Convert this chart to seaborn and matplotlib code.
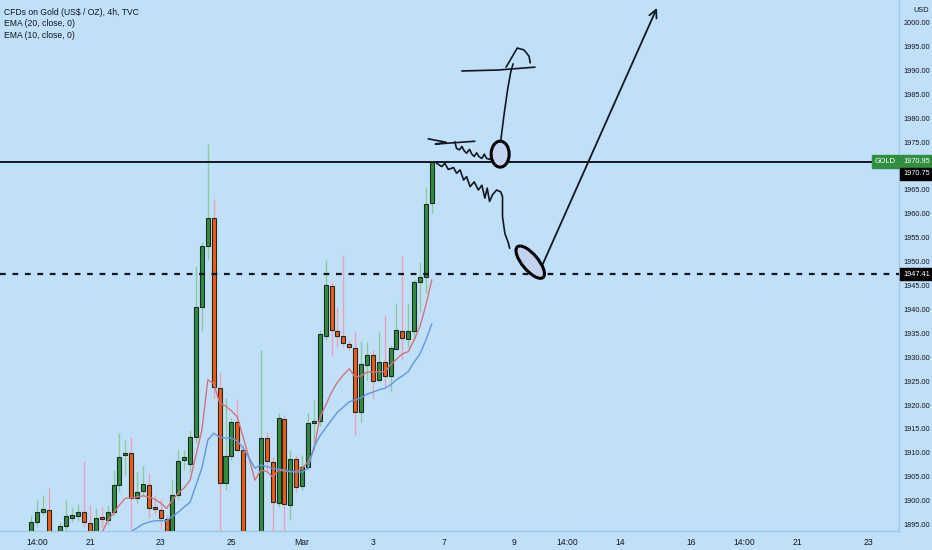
import numpy as np
import pandas as pd
import seaborn as sns
import matplotlib.pyplot as plt
from matplotlib.patches import Ellipse
from matplotlib.transforms import ScaledTranslation, blended_transform_factory

nan = np.nan

# 4h candles of CFDs on Gold (US$ / OZ)
opens = [1892.5, 1895.6, 1897.7, 1898.1, 1893.0, 1891.5, 1894.7, 1896.3, 1896.7, 1897.7,
         1895.4, 1893.5, 1896.2, 1895.9, 1897.6, 1903.3, 1909.6, 1910.0, 1900.6, 1902.0,
         1903.3, 1898.3, 1898.1, 1896.1, 1892.0, 1901.1, 1908.6, 1907.7, 1913.4, 1940.5,
         1953.3, 1959.2, 1923.5, 1903.6, 1909.4, 1916.4, 1910.6, 1892.0, 1889.5, 1892.0,
         1913.2, 1908.0, 1899.6, 1917.0, 1899.1, 1908.7, 1903.1, 1907.0, 1916.2, 1916.7,
         1934.5, 1944.9, 1935.5, 1934.4, 1932.7, 1931.9, 1918.6, 1928.4, 1930.5, 1925.3,
         1929.1, 1926.1, 1931.7, 1935.4, 1933.8, 1935.5, 1945.7, 1946.9, 1962.2]
highs = [1897.0, 1900.1, 1901.2, 1902.6, 1893.5, 1895.5, 1900.1, 1898.6, 1899.4, 1908.3,
         1899.1, 1898.5, 1898.7, 1899.0, 1906.5, 1914.2, 1912.7, 1913.4, 1906.0, 1907.3,
         1905.8, 1901.2, 1900.4, 1897.0, 1904.5, 1910.6, 1910.6, 1914.8, 1949.0, 1954.2,
         1974.6, 1963.1, 1926.9, 1921.4, 1917.2, 1921.3, 1911.6, 1893.0, 1893.5, 1931.5,
         1914.3, 1909.2, 1918.3, 1917.9, 1910.6, 1909.6, 1909.6, 1918.3, 1921.0, 1935.7,
         1950.4, 1945.7, 1940.6, 1951.4, 1933.6, 1935.4, 1933.5, 1933.1, 1931.5, 1935.2,
         1938.9, 1932.6, 1941.4, 1951.2, 1941.3, 1946.2, 1950.0, 1965.7, 1971.0]
lows = [1891.5, 1894.5, 1897.0, 1892.0, 1889.0, 1890.0, 1893.5, 1895.5, 1895.8, 1894.5,
        1892.0, 1892.5, 1894.5, 1895.0, 1896.8, 1901.8, 1905.4, 1894.0, 1899.5, 1901.0,
        1896.3, 1897.2, 1894.1, 1890.0, 1890.0, 1900.2, 1906.4, 1906.0, 1912.0, 1935.4,
        1950.4, 1921.5, 1893.5, 1902.2, 1908.5, 1910.3, 1890.0, 1887.0, 1888.0, 1890.5,
        1906.4, 1893.5, 1898.7, 1893.5, 1896.0, 1901.8, 1902.2, 1906.4, 1911.0, 1915.6,
        1933.6, 1930.3, 1932.2, 1932.2, 1931.5, 1913.7, 1916.5, 1925.3, 1921.3, 1924.9,
        1923.9, 1922.8, 1931.5, 1929.4, 1932.2, 1933.6, 1939.5, 1943.4, 1960.1]
closes = [1895.6, 1897.7, 1898.3, 1893.0, 1891.0, 1894.7, 1896.7, 1896.9, 1897.7, 1895.6,
          1893.5, 1896.4, 1895.8, 1897.6, 1903.3, 1909.1, 1910.0, 1900.6, 1901.9, 1903.5,
          1898.5, 1898.1, 1896.3, 1892.0, 1901.1, 1908.3, 1909.1, 1913.4, 1940.5, 1953.3,
          1959.2, 1923.7, 1903.8, 1909.4, 1916.4, 1910.6, 1892.0, 1889.5, 1892.0, 1913.1,
          1908.2, 1899.7, 1917.2, 1899.3, 1908.7, 1902.8, 1907.1, 1916.2, 1916.7, 1934.9,
          1945.1, 1935.7, 1934.5, 1932.9, 1932.1, 1918.5, 1928.6, 1930.5, 1925.0, 1929.1,
          1926.1, 1931.9, 1935.7, 1934.0, 1935.5, 1945.7, 1946.9, 1962.1, 1970.95]

# indicator lines as drawn (only the visible part)
ema10 = [nan] * 12 + [
    1893.2, 1895.8, 1897.4, 1899.1, 1900.5, 1900.6, 1900.8, 1901.0, 1900.8, 1900.3,
    1899.5, 1898.4, 1900.1, 1901.6, 1902.7, 1904.3, 1909.6, 1914.8, 1925.3, 1924.5,
    1920.5, 1919.8, 1918.8, 1917.5, 1913.3, 1908.9, 1904.3, 1906.4, 1906.1, 1905.0,
    1906.4, 1906.2, 1906.1, 1906.1, 1906.8, 1908.1, 1910.6, 1917.3, 1920.0, 1922.7,
    1924.8, 1926.3, 1927.6, 1925.9, 1926.1, 1926.9, 1926.9, 1927.0, 1927.0, 1928.4,
    1929.6, 1930.7, 1931.2, 1933.6, 1936.5, 1940.9, 1946.2]
ema20 = [nan] * 17 + [
    1893.6, 1894.3, 1895.1, 1895.5, 1895.8, 1895.8, 1895.8, 1896.7, 1897.6, 1898.7,
    1899.7, 1903.3, 1906.8, 1912.7, 1914.1, 1913.3, 1913.1, 1913.1, 1912.5, 1911.0,
    1908.9, 1906.8, 1907.5, 1907.1, 1906.8, 1906.6, 1906.4, 1906.1, 1906.0, 1906.0,
    1906.8, 1911.2, 1913.5, 1915.2, 1916.9, 1918.5, 1919.6, 1920.7, 1921.1, 1921.5,
    1922.3, 1922.7, 1923.2, 1923.5, 1924.2, 1925.3, 1926.1, 1927.0, 1929.0, 1930.7,
    1933.6, 1937.0]

tick_bars = [1, 10, 22, 34, 46, 58, 70, 82, 91, 100, 112, 121, 130, 142]
tick_labels = ['14:00', '21', '23', '25', 'Mar', '3', '7', '9', '14:00', '14', '16', '14:00', '21', '23']
price_ticks = list(range(1895, 2001, 5))

last_price = 1970.95
second_price = 1970.75
support_price = 1947.41

# hand drawn sketch (bar index, price)
sketch_top = [(67.4, 1975.7), (70.4, 1975.0), (68.6, 1974.6), (75.3, 1975.2)]
sketch_wave1 = [(71.9, 1975.1), (72.2, 1973.7), (72.7, 1973.4), (73.1, 1974.1), (73.5, 1973.2),
                (73.9, 1972.7), (74.4, 1973.5), (74.8, 1972.5), (75.2, 1972.0), (75.6, 1972.8),
                (76.0, 1972.0), (76.5, 1971.6), (76.9, 1972.5), (77.3, 1971.6), (77.9, 1971.4),
                (78.4, 1971.6)]
sketch_wave2 = [(68.8, 1970.6), (69.7, 1969.9), (70.2, 1970.6), (70.8, 1969.3), (71.7, 1969.7),
                (72.2, 1968.5), (72.8, 1969.2), (73.4, 1967.1), (73.9, 1967.8), (74.5, 1965.7),
                (75.2, 1966.7), (75.9, 1965.0), (76.5, 1966.0), (77.0, 1963.3), (77.4, 1965.4),
                (77.8, 1962.6), (78.3, 1964.0), (79.0, 1965.0), (79.7, 1964.6), (80.0, 1963.6),
                (80.0, 1959.4), (80.4, 1955.9), (81.0, 1953.9), (81.2, 1952.8)]
sketch_up = [(79.7, 1975.3), (80.25, 1980.7), (80.9, 1986.3), (81.4, 1989.7), (81.8, 1991.4)]
sketch_flat = [(73.1, 1989.9), (79.2, 1990.1), (85.5, 1990.7)]
sketch_hook = [(80.6, 1990.7), (81.6, 1992.8), (82.5, 1994.7), (83.65, 1994.3), (84.5, 1993.0), (84.7, 1991.6)]
arrow_from = (86.0, 1947.2)
arrow_to = (106.2, 2003.1)
circle_top = (79.6, 1972.5)
circle_low = (84.7, 1949.9)

bg = '#c0e0fa'
ink = '#131722'
sns.set_theme(style='white', rc={'axes.facecolor': bg, 'figure.facecolor': bg})
plt.rcParams['font.family'] = ['Liberation Sans', 'DejaVu Sans']

df = pd.DataFrame({'open': opens, 'high': highs, 'low': lows, 'close': closes,
                   'ema10': ema10, 'ema20': ema20})
df['bar'] = np.arange(len(df))

fig = plt.figure(figsize=(9.32, 5.5), dpi=100)
ax = fig.add_axes([0, 0.0351, 0.9646, 0.9649])

# candles
up = df['close'] >= df['open']
body = df['close'] - df['open']
body = body.where(body.abs() > 0.45, 0.45)
for mask, face, wick in [(up, '#2f8f3e', '#8ccb98'), (~up, '#f55a10', '#eca2b4')]:
    d = df[mask]
    ax.vlines(d['bar'], d['low'], d['high'], color=wick, lw=1.0, zorder=2)
    ax.bar(d['bar'], body[mask], bottom=d['open'], width=0.68, color=face,
           edgecolor='#1f2a22', linewidth=0.8, zorder=3)

# EMA lines
sns.lineplot(data=df, x='bar', y='ema10', ax=ax, color='#d4737c', lw=1.0, zorder=4)
sns.lineplot(data=df, x='bar', y='ema20', ax=ax, color='#6396e0', lw=1.0, zorder=4)

# horizontal levels
ax.axhline(last_price, color=ink, lw=1.4, zorder=5)
ax.axhline(support_price, color=ink, lw=1.6, ls=(0, (2.6, 3.0)), zorder=5)

# sketch
for path in [sketch_top, sketch_wave1, sketch_wave2, sketch_up, sketch_flat, sketch_hook]:
    xs, ys = zip(*path)
    ax.plot(xs, ys, color=ink, lw=1.2, zorder=6, solid_capstyle='round')
ax.annotate('', xy=arrow_to, xytext=arrow_from,
            arrowprops=dict(arrowstyle='->', color=ink, lw=1.3, mutation_scale=14,
                            shrinkA=0, shrinkB=0), zorder=6)
for (cx, cy), w, h, ang in [(circle_top, 0.18, 0.26, 0), (circle_low, 0.40, 0.16, -50)]:
    e = Ellipse((0, 0), w, h, angle=ang, facecolor='#c3d2ee', edgecolor='black', lw=2.2,
                transform=fig.dpi_scale_trans + ScaledTranslation(cx, cy, ax.transData), zorder=7)
    ax.add_patch(e)

ax.set_xlim(-5.26, 147.27)
ax.set_ylim(1893.72, 2004.75)
ax.set_xlabel('')
ax.set_ylabel('')

ax.set_xticks(tick_bars)
ax.set_xticklabels(tick_labels)
ax.yaxis.tick_right()
ax.set_yticks(price_ticks)
ax.set_yticklabels([f'{v:.2f}' for v in price_ticks])
ax.tick_params(axis='x', length=0, pad=5, labelsize=6.2, colors=ink)
ax.tick_params(axis='y', length=0, pad=3.2, labelsize=5.3, colors=ink)
for s in ['top', 'left']:
    ax.spines[s].set_visible(False)
for s in ['right', 'bottom']:
    ax.spines[s].set_color('#a3c6e3')
    ax.spines[s].set_linewidth(1)
ax.grid(False)

# legend block top left
ax.text(0.0045, 0.977, 'CFDs on Gold (US$ / OZ), 4h, TVC', transform=ax.transAxes,
        fontsize=6.2, color=ink, va='center', ha='left')
ax.text(0.0045, 0.955, 'EMA (20, close, 0)', transform=ax.transAxes,
        fontsize=6.2, color=ink, va='center', ha='left')
ax.text(0.0045, 0.934, 'EMA (10, close, 0)', transform=ax.transAxes,
        fontsize=6.2, color=ink, va='center', ha='left')

tr = blended_transform_factory(ax.transAxes, ax.transData)
ax.text(1.0 + 14 / 899, 2002.6, 'USD', transform=tr, fontsize=5.3, color=ink, va='center', ha='left')

# price labels on the scale
ax.text(1.0 + 4 / 899, last_price, f'{last_price:.2f}', transform=tr, fontsize=5.3, color='white',
        va='center', ha='left', zorder=8,
        bbox=dict(boxstyle='square,pad=0.35', facecolor='#2f8f3e', edgecolor='#2f8f3e'))
ax.text(1.0 - 3 / 899, last_price, 'GOLD', transform=tr, fontsize=5.3, color='white',
        va='center', ha='right', zorder=8,
        bbox=dict(boxstyle='square,pad=0.35', facecolor='#2f8f3e', edgecolor='#2f8f3e'))
ax.annotate(f'{second_price:.2f}', xy=(1.0 + 4 / 899, last_price), xycoords=tr,
            xytext=(0, -8.8), textcoords='offset points', fontsize=5.3, color='white',
            va='center', ha='left', zorder=8, annotation_clip=False,
            bbox=dict(boxstyle='square,pad=0.35', facecolor='black', edgecolor='black'))
ax.text(1.0 + 4 / 899, support_price, f'{support_price:.2f}', transform=tr, fontsize=5.3,
        color='white', va='center', ha='left', zorder=8,
        bbox=dict(boxstyle='square,pad=0.35', facecolor='black', edgecolor='black'))

fig.savefig('out.png', dpi=100, facecolor=bg)
